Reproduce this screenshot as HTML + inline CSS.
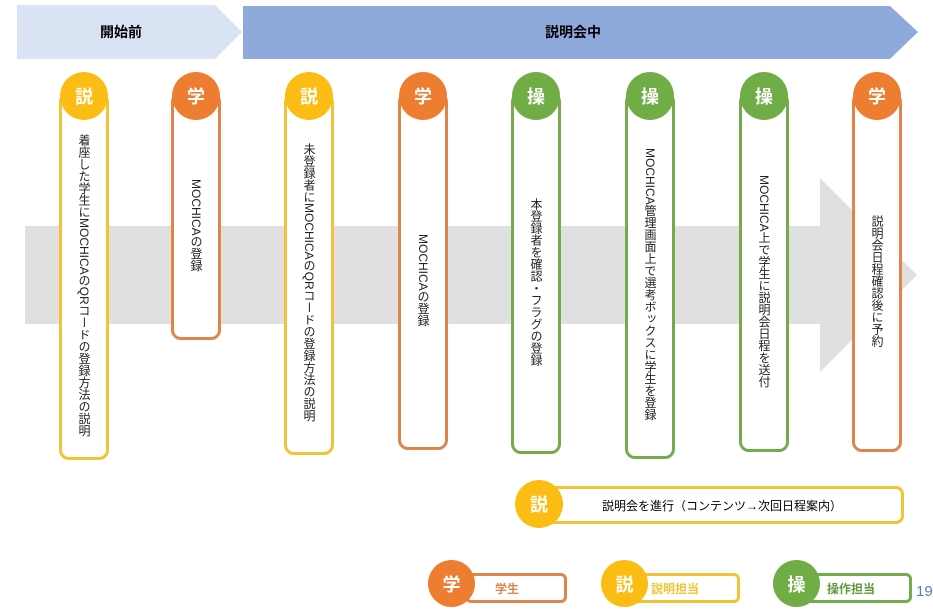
<!DOCTYPE html>
<html><head><meta charset="utf-8"><style>
body{margin:0;width:933px;height:615px;background:#fff;position:relative;overflow:hidden;font-family:"Liberation Sans","Noto Sans CJK JP",sans-serif}
.a{position:absolute}
.card{position:absolute;width:50px;border:3px solid;border-radius:10px;background:#fff;top:92px;display:flex;align-items:center;justify-content:center;box-sizing:border-box;padding-top:26px;padding-bottom:8px}
.card span{writing-mode:vertical-rl;font-size:12px;color:#222;line-height:14px}
.c{position:absolute;width:48px;height:48px;border-radius:50%;color:#fff;font-weight:bold;font-size:18px;display:flex;align-items:center;justify-content:center}
.y{border-color:#f2c335}.yb{background:#fbbd14}
.o{border-color:#e0854a}.ob{background:#ec7d31}
.g{border-color:#74ab4d}.gb{background:#70ad47}
</style></head><body>
<svg class="a" style="left:0;top:0" width="933" height="615">
<polygon points="17,5 215,5 242,32 215,59 17,59" fill="#dae3f3"/>
<polygon points="243,6 890,6 918,32 890,59 243,59" fill="#8eaadb"/>
<polygon points="25,226 820,226 820,178 917,275 820,372 820,324 25,324" fill="#e0e0e0"/>
</svg>
<div class="a" style="left:100px;top:22px;font-weight:bold;font-size:14px">開始前</div>
<div class="a" style="left:545px;top:22px;font-weight:bold;font-size:14px">説明会中</div>

<div class="card y" style="left:59px;height:368px"><span>着座した学生にMOCHICAのQRコードの登録方法の説明</span></div>
<div class="card o" style="left:171px;height:248px"><span>MOCHICAの登録</span></div>
<div class="card y" style="left:284px;height:363px"><span>未登録者にMOCHICAのQRコードの登録方法の説明</span></div>
<div class="card o" style="left:398px;height:358px"><span>MOCHICAの登録</span></div>
<div class="card g" style="left:511px;height:362px"><span>本登録者を確認・フラグの登録</span></div>
<div class="card g" style="left:625px;height:367px"><span>MOCHICA管理画面上で選考ボックスに学生を登録</span></div>
<div class="card g" style="left:739px;height:360px"><span>MOCHICA上で学生に説明会日程を送付</span></div>
<div class="card o" style="left:852px;height:360px"><span>説明会日程確認後に予約</span></div>

<div class="c yb" style="left:60px;top:72px">説</div>
<div class="c ob" style="left:172px;top:72px">学</div>
<div class="c yb" style="left:285px;top:72px">説</div>
<div class="c ob" style="left:399px;top:72px">学</div>
<div class="c gb" style="left:512px;top:72px">操</div>
<div class="c gb" style="left:626px;top:72px">操</div>
<div class="c gb" style="left:740px;top:72px">操</div>
<div class="c ob" style="left:853px;top:72px">学</div>

<div class="a" style="left:540px;top:486px;width:364px;height:38px;border:3px solid #f2c335;border-radius:8px;box-sizing:border-box;font-size:12px;display:flex;align-items:center;justify-content:center">説明会を進行（コンテンツ→次回日程案内）</div>
<div class="c yb" style="left:515px;top:480px">説</div>

<div class="a" style="left:465px;top:573px;width:102px;height:30px;border:3px solid #e0854a;border-radius:6px;box-sizing:border-box;font-size:12px;font-weight:bold;color:#e0854a;padding:4px 0 0 27px">学生</div>
<div class="c ob" style="left:428px;top:560px;width:47px;height:47px">学</div>
<div class="a" style="left:620px;top:573px;width:120px;height:30px;border:3px solid #f2c335;border-radius:6px;box-sizing:border-box;font-size:12px;font-weight:bold;color:#f2c335;padding:4px 0 0 28px">説明担当</div>
<div class="c yb" style="left:601px;top:560px;width:47px;height:47px">説</div>
<div class="a" style="left:792px;top:573px;width:120px;height:30px;border:3px solid #74ab4d;border-radius:6px;box-sizing:border-box;font-size:12px;font-weight:bold;color:#5e9a3a;padding:4px 0 0 32px">操作担当</div>
<div class="c gb" style="left:773px;top:560px;width:47px;height:47px">操</div>
<div class="a" style="left:916px;top:583px;font-size:15px;color:#5b7fb5">19</div>
</body></html>
